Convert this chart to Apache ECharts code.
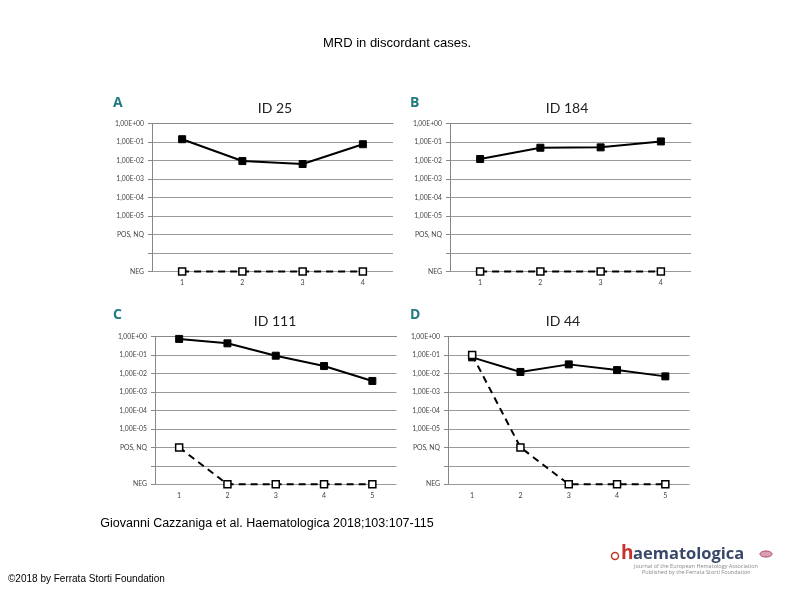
<!DOCTYPE html>
<html><head><meta charset="utf-8">
<script src="https://cdn.jsdelivr.net/npm/echarts@6/dist/echarts.min.js"></script>
<style>html,body{margin:0;padding:0;background:#fff}#c{width:794px;height:595px}</style>
</head><body><div id="c"></div>
<script>
const cats4 = ['1','2','3','4'];
const cats5 = ['1','2','3','4','5'];
// log10 MRD; -6 = POS, NQ ; -8 = NEG
const yTickLabels = ['NEG','','POS, NQ','1,00E-05','1,00E-04','1,00E-03','1,00E-02','1,00E-01','1,00E+00'];
const panelTitles = ['ID 25','ID 184','ID 111','ID 44'];
const panelLetters = ['A','B','C','D'];
const aSolid = [-0.85,-2.03,-2.19,-1.12];
const aDashed = [-8,-8,-8,-8];
const bSolid = [-1.92,-1.31,-1.29,-0.97];
const bDashed = [-8,-8,-8,-8];
const cSolid = [-0.12,-0.36,-1.03,-1.59,-2.4];
const cDashed = [-6,-8,-8,-8,-8];
const dSolid = [-1.12,-1.91,-1.5,-1.81,-2.15];
const dDashed = [-0.99,-6,-8,-8,-8];

const panels = [
  {cats:cats4, solid:aSolid, dashed:aDashed, grid:{left:152,top:123.5,width:241,height:148}},
  {cats:cats4, solid:bSolid, dashed:bDashed, grid:{left:450,top:123.5,width:241,height:148}},
  {cats:cats5, solid:cSolid, dashed:cDashed, grid:{left:155,top:336.7,width:241.5,height:147.6}},
  {cats:cats5, solid:dSolid, dashed:dDashed, grid:{left:448,top:336.7,width:241.5,height:147.6}}
];
const titlePos = [[275,108],[567,108],[275,321],[563,321]];
const letterPos = [[113,96],[410,96],[113,308],[410,308]];

const chart = echarts.init(document.getElementById('c'), null, {renderer:'canvas'});
const grids=[], xAxes=[], yAxes=[], series=[], graphics=[];
panels.forEach((p,i)=>{
  grids.push(p.grid);
  xAxes.push({type:'category', gridIndex:i, data:p.cats, boundaryGap:true,
    axisLine:{lineStyle:{color:'#888',width:1}}, axisTick:{show:false},
    axisLabel:{fontFamily:'Lato', fontSize:7, color:'#444', margin:8}});
  yAxes.push({type:'value', gridIndex:i, min:-8, max:0, interval:1,
    axisLine:{show:true, lineStyle:{color:'#888',width:1}},
    axisTick:{show:true, length:4, lineStyle:{color:'#888'}},
    splitLine:{show:true, lineStyle:{color:'#9a9a9a',width:1}},
    axisLabel:{fontFamily:'Lato', fontSize:6.8, color:'#444', margin:8,
      formatter:v=>yTickLabels[Math.round(v)+8]}});
  series.push({type:'line', xAxisIndex:i, yAxisIndex:i, data:p.solid, clip:false,
    symbol:'rect', symbolSize:7, lineStyle:{color:'#000',width:2},
    itemStyle:{color:'#000',borderColor:'#000'}, z:3, animation:false});
  series.push({type:'line', xAxisIndex:i, yAxisIndex:i, data:p.dashed, clip:false,
    symbol:'rect', symbolSize:7, lineStyle:{color:'#000',width:2,type:[7,5]},
    itemStyle:{color:'#fff',borderColor:'#000',borderWidth:1.5}, z:4, animation:false});
  graphics.push({type:'text', x:titlePos[i][0], y:titlePos[i][1],
    style:{text:panelTitles[i], font:'14px Lato', fill:'#222', textAlign:'center', textVerticalAlign:'middle'}});
  graphics.push({type:'text', x:letterPos[i][0], y:letterPos[i][1],
    style:{text:panelLetters[i], font:'bold 14px "Open Sans"', fill:'#1f7b80', textAlign:'left', textVerticalAlign:'top'}});
});
graphics.push({type:'text', x:397, y:43, style:{text:'MRD in discordant cases.', font:'13px "Liberation Sans"', fill:'#000', textAlign:'center', textVerticalAlign:'middle'}});
graphics.push({type:'text', x:267, y:524, style:{text:'Giovanni Cazzaniga et al. Haematologica 2018;103:107-115', font:'12.5px "Liberation Sans"', fill:'#000', textAlign:'center', textVerticalAlign:'middle'}});
graphics.push({type:'text', x:8, y:579, style:{text:'©2018 by Ferrata Storti Foundation', font:'10px "Liberation Sans"', fill:'#000', textAlign:'left', textVerticalAlign:'middle'}});
// logo
graphics.push({type:'circle', shape:{cx:615, cy:556, r:3.5}, style:{fill:'#fff', stroke:'#c0392b', lineWidth:1.5}});
graphics.push({type:'text', x:621, y:554, style:{text:'h', font:'bold 19px "Open Sans"', fill:'#c8312b', textAlign:'left', textVerticalAlign:'middle'}});
graphics.push({type:'text', x:633, y:554, style:{text:'aematologica', font:'bold 16.5px "Open Sans"', fill:'#3a4868', textAlign:'left', textVerticalAlign:'middle'}});
graphics.push({type:'text', x:634, y:566, style:{text:'Journal of the European Hematology Association', font:'5.5px "Open Sans"', fill:'#888', textAlign:'left', textVerticalAlign:'middle'}});
graphics.push({type:'text', x:642, y:572, style:{text:'Published by the Ferrata Storti Foundation', font:'5.5px "Open Sans"', fill:'#888', textAlign:'left', textVerticalAlign:'middle'}});
graphics.push({type:'ellipse', shape:{cx:766, cy:554, rx:6, ry:3}, style:{fill:'#d8a0b0', stroke:'#b04060', lineWidth:1}});

chart.setOption({animation:false, grid:grids, xAxis:xAxes, yAxis:yAxes, series:series, graphic:graphics});
</script></body></html>
